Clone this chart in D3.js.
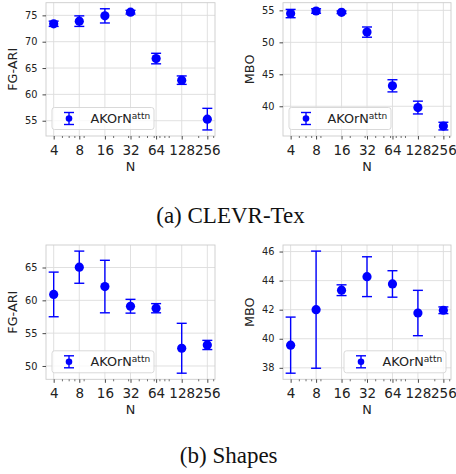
<!DOCTYPE html>
<html><head><meta charset="utf-8">
<script src="https://cdn.jsdelivr.net/npm/d3@7"></script>
<style>html,body{margin:0;padding:0;background:#fff}svg{display:block}</style>
</head><body>
<svg id="c" width="456" height="474"></svg>
<script>
// ---- data ----
const N = [4, 8, 16, 32, 64, 128, 256];
const clevrFgAri    = [73.4, 73.9, 74.9, 75.6, 66.8, 62.7, 55.3];
const clevrFgAriErr = [0.5, 1.0, 1.35, 0.35, 1.0, 0.8, 2.05];
const clevrMbo      = [54.5, 54.9, 54.7, 51.6, 43.2, 39.8, 36.9];
const clevrMboErr   = [0.65, 0.35, 0.2, 0.8, 0.95, 1.0, 0.6];
const shapesFgAri    = [60.9, 65.05, 62.1, 59.1, 58.8, 52.7, 53.2];
const shapesFgAriErr = [3.4, 2.45, 4.0, 1.05, 0.7, 3.8, 0.7];
const shapesMbo      = [39.56, 42.0, 43.34, 44.27, 43.77, 41.77, 41.96];
const shapesMboErr   = [1.93, 4.03, 0.37, 1.37, 0.91, 1.56, 0.23];
const xTicks = [4, 8, 16, 32, 64, 128, 256];
const xMinorTicks = [5, 6, 7, 9, 20, 30, 40, 50, 60, 70, 80, 90, 200, 300];
const yTicksClevrFg = [55, 60, 65, 70, 75];
const yTicksClevrMbo = [40, 45, 50, 55];
const yTicksShapesFg = [50, 55, 60, 65];
const yTicksShapesMbo = [38, 40, 42, 44, 46];
const seriesName = "AKOrN";
const seriesSup = "attn";
const captions = ["(a) CLEVR-Tex", "(b) Shapes"];

const panels = [
  {v: clevrFgAri, e: clevrFgAriErr, ticks: yTicksClevrFg, ylabel: "FG-ARI", x0: 46, x1: 215, y0: 2.7, y1: 136, legend: "left"},
  {v: clevrMbo, e: clevrMboErr, ticks: yTicksClevrMbo, ylabel: "MBO", x0: 283, x1: 451, y0: 2.7, y1: 136, legend: "left"},
  {v: shapesFgAri, e: shapesFgAriErr, ticks: yTicksShapesFg, ylabel: "FG-ARI", x0: 46, x1: 215, y0: 245, y1: 379.3, legend: "left"},
  {v: shapesMbo, e: shapesMboErr, ticks: yTicksShapesMbo, ylabel: "MBO", x0: 283, x1: 451, y0: 245, y1: 379.3, legend: "right"}
];

const svg = d3.select("#c");
const FONT = "DejaVu Sans, sans-serif";
const BLUE = "#0000ff";
const GRID = "#dcdcdc";

panels.forEach(p => {
  const x = d3.scaleLog().base(2)
    .domain([4 * Math.pow(2, -0.3), 256 * Math.pow(2, 0.3)])
    .range([p.x0, p.x1]);
  const lo = d3.min(p.v.map((d, i) => d - p.e[i]));
  const hi = d3.max(p.v.map((d, i) => d + p.e[i]));
  const pad = (hi - lo) * 0.05;
  const y = d3.scaleLinear().domain([lo - pad, hi + pad]).range([p.y1, p.y0]);
  const g = svg.append("g");

  // grid
  g.selectAll(".gx").data(xTicks).enter().append("line")
    .attr("x1", d => x(d)).attr("x2", d => x(d))
    .attr("y1", p.y0).attr("y2", p.y1)
    .attr("stroke", GRID).attr("stroke-width", 0.9);
  g.selectAll(".gy").data(p.ticks).enter().append("line")
    .attr("x1", p.x0).attr("x2", p.x1)
    .attr("y1", d => y(d)).attr("y2", d => y(d))
    .attr("stroke", GRID).attr("stroke-width", 0.9);

  // frame
  g.append("rect").attr("x", p.x0).attr("y", p.y0)
    .attr("width", p.x1 - p.x0).attr("height", p.y1 - p.y0)
    .attr("fill", "none").attr("stroke", "#cccccc").attr("stroke-width", 0.9);

  // x axis
  const xAxis = d3.axisBottom(x).tickValues(xTicks).tickFormat(d3.format("d"))
    .tickSize(3.5).tickPadding(3);
  const xa = g.append("g").attr("transform", `translate(0,${p.y1})`).call(xAxis);
  xa.select(".domain").remove();
  xa.selectAll(".tick line").attr("stroke", "#333").attr("stroke-width", 0.9);
  xa.selectAll(".tick text").attr("font-family", FONT).attr("font-size", 13.5)
    .attr("fill", "#222").attr("dy", null).attr("y", 19).attr("dominant-baseline", "auto");
  const xm = d3.axisBottom(x).tickValues(xMinorTicks).tickFormat("").tickSize(2);
  const xma = g.append("g").attr("transform", `translate(0,${p.y1})`).call(xm);
  xma.select(".domain").remove();
  xma.selectAll(".tick line").attr("stroke", "#333").attr("stroke-width", 0.7);

  // y axis
  const yAxis = d3.axisLeft(y).tickValues(p.ticks).tickFormat(d3.format("d"))
    .tickSize(3.5).tickPadding(5);
  const ya = g.append("g").attr("transform", `translate(${p.x0},0)`).call(yAxis);
  ya.select(".domain").remove();
  ya.selectAll(".tick line").attr("stroke", "#333").attr("stroke-width", 0.9);
  ya.selectAll(".tick text").attr("font-family", FONT).attr("font-size", 9.8).attr("fill", "#222");

  // labels
  g.append("text").attr("x", (p.x0 + p.x1) / 2).attr("y", p.y1 + 34.7)
    .attr("text-anchor", "middle").attr("font-family", FONT).attr("font-size", 12.8)
    .attr("fill", "#222").text("N");
  g.append("text")
    .attr("transform", `translate(${p.x0 - 29.3},${(p.y0 + p.y1) / 2}) rotate(-90)`)
    .attr("text-anchor", "middle").attr("font-family", FONT).attr("font-size", 12.8)
    .attr("fill", "#222").text(p.ylabel);

  // error bars
  const pts = N.map((n, i) => ({n, v: p.v[i], e: p.e[i]}));
  const eb = g.append("g");
  eb.selectAll(".ev").data(pts).enter().append("line")
    .attr("x1", d => x(d.n)).attr("x2", d => x(d.n))
    .attr("y1", d => y(d.v - d.e)).attr("y2", d => y(d.v + d.e))
    .attr("stroke", BLUE).attr("stroke-width", 1.4);
  [-1, 1].forEach(s => {
    eb.selectAll(".cap" + s).data(pts).enter().append("line")
      .attr("x1", d => x(d.n) - 5).attr("x2", d => x(d.n) + 5)
      .attr("y1", d => y(d.v + s * d.e)).attr("y2", d => y(d.v + s * d.e))
      .attr("stroke", BLUE).attr("stroke-width", 1.4);
  });
  eb.selectAll("circle").data(pts).enter().append("circle")
    .attr("cx", d => x(d.n)).attr("cy", d => y(d.v)).attr("r", 4.6)
    .attr("fill", BLUE);

  // legend
  const lw = 102, lh = 22;
  const lx = p.legend === "left" ? p.x0 + 6 : p.x1 - 5 - lw;
  const ly = p.y1 - 6.5 - lh;
  const lg = g.append("g").attr("transform", `translate(${lx},${ly})`);
  lg.append("rect").attr("width", lw).attr("height", lh).attr("rx", 2.5)
    .attr("fill", "#fff").attr("fill-opacity", 0.8)
    .attr("stroke", "#d5d5d5").attr("stroke-width", 0.9);
  const mx = 17, my = lh / 2;
  lg.append("line").attr("x1", mx).attr("x2", mx).attr("y1", my - 6).attr("y2", my + 6)
    .attr("stroke", BLUE).attr("stroke-width", 1.4);
  [-6, 6].forEach(o => lg.append("line").attr("x1", mx - 5).attr("x2", mx + 5)
    .attr("y1", my + o).attr("y2", my + o).attr("stroke", BLUE).attr("stroke-width", 1.4));
  lg.append("circle").attr("cx", mx).attr("cy", my).attr("r", 3.3).attr("fill", BLUE);
  const t = lg.append("text").attr("x", 38.5).attr("y", my + 4.6)
    .attr("font-family", FONT).attr("font-size", 12.8).attr("fill", "#222");
  t.append("tspan").text(seriesName);
  t.append("tspan").attr("font-size", 9).attr("dy", -4.5).text(seriesSup);
});

// captions
svg.append("text").attr("x", 230.5).attr("y", 223.3).attr("text-anchor", "middle")
  .attr("font-family", "Liberation Serif, Times New Roman, serif").attr("font-size", 23)
  .attr("fill", "#111").text(captions[0]);
svg.append("text").attr("x", 228.7).attr("y", 462.7).attr("text-anchor", "middle")
  .attr("font-family", "Liberation Serif, Times New Roman, serif").attr("font-size", 23)
  .attr("fill", "#111").text(captions[1]);
</script>
</body></html>
